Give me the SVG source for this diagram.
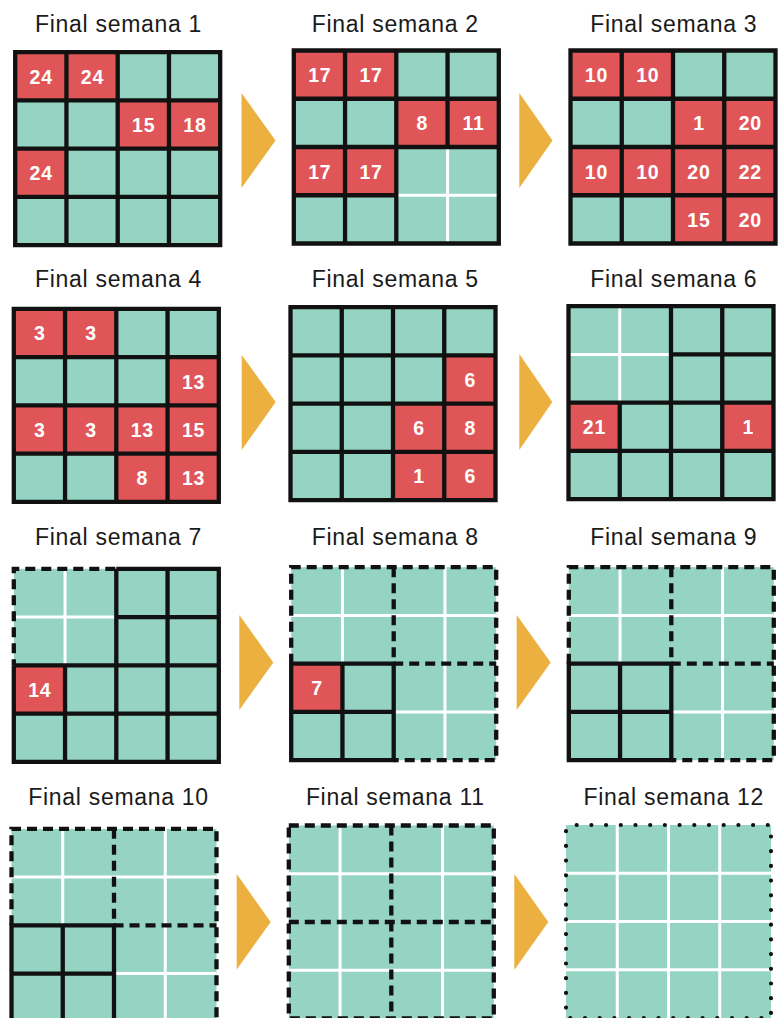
<svg xmlns="http://www.w3.org/2000/svg" xmlns:xlink="http://www.w3.org/1999/xlink" width="779" height="1018" viewBox="0 0 779 1018">
<style>
.bg{fill:#95D4C3}
.red{fill:#E05658}
.k{fill:none;stroke:#111;stroke-width:4.3}
.w{fill:none;stroke:#fff;stroke-width:3}
.d{fill:none;stroke:#111;stroke-width:4.3;stroke-dasharray:10 6}
.dot{fill:none;stroke:#111;stroke-width:4.2;stroke-dasharray:0 14.7;stroke-dashoffset:4;stroke-linecap:round}
.t{font-family:"Liberation Sans",Arial,sans-serif;font-size:23px;letter-spacing:0.7px;fill:#1a1a1a;text-anchor:middle}
.n{font-family:"Liberation Sans",Arial,sans-serif;font-weight:bold;font-size:19.5px;letter-spacing:0.8px;fill:#fff;text-anchor:middle}
.arr{fill:#ECB040}
</style>
<defs>
<rect id="bg" class="bg" width="205" height="193"/>
<rect id="c" class="red" width="51.25" height="48.25"/>
<path id="grid" class="k" d="M0,0H205V193H0Z M51.25,0V193 M102.5,0V193 M153.75,0V193 M0,48.25H205 M0,96.5H205 M0,144.75H205"/>
</defs>

<g id="connectors">
<polygon class="arr" points="241.5,93 275.5,140.5 241.5,188"/>
<polygon class="arr" points="519.3,93 552.5,140.5 519.3,188"/>
<polygon class="arr" points="241.7,355 275.7,402 241.7,450"/>
<polygon class="arr" points="519.3,354 552.3,402 519.3,450"/>
<polygon class="arr" points="239.3,615 273.3,662.5 239.3,710"/>
<polygon class="arr" points="516.7,615 550.7,662.5 516.7,710"/>
<polygon class="arr" points="236.7,874 270.7,922 236.7,969.5"/>
<polygon class="arr" points="514.3,874 548.3,922 514.3,970"/>
</g>

<g id="week1">
<text class="t" x="118.6" y="32.3">Final semana 1</text>
<g transform="translate(15.2,52.2)">
<use href="#bg"/>
<use href="#c" x="0" y="0"/><use href="#c" x="51.25" y="0"/><use href="#c" x="102.5" y="48.25"/><use href="#c" x="153.75" y="48.25"/><use href="#c" x="0" y="96.5"/>
<use href="#grid"/>
<text class="n" x="26" y="31.5">24</text><text class="n" x="77.3" y="31.5">24</text><text class="n" x="128.5" y="79.8">15</text><text class="n" x="179.8" y="79.8">18</text><text class="n" x="26" y="128">24</text>
</g>
</g>

<g id="week2">
<text class="t" x="395.3" y="32.3">Final semana 2</text>
<g transform="translate(293.8,50.5)">
<use href="#bg"/>
<use href="#c" x="0" y="0"/><use href="#c" x="51.25" y="0"/><use href="#c" x="102.5" y="48.25"/><use href="#c" x="153.75" y="48.25"/><use href="#c" x="0" y="96.5"/><use href="#c" x="51.25" y="96.5"/>
<path class="w" d="M153.75,96.5V193 M102.5,144.75H205"/>
<path class="k" d="M0,0H205V193H0Z M51.25,0V193 M102.5,0V193 M153.75,0V96.5 M0,48.25H205 M0,96.5H205 M0,144.75H102.5"/>
<text class="n" x="26" y="31.5">17</text><text class="n" x="77.3" y="31.5">17</text><text class="n" x="128.5" y="79.8">8</text><text class="n" x="179.8" y="79.8">11</text><text class="n" x="26" y="128">17</text><text class="n" x="77.3" y="128">17</text>
</g>
</g>

<g id="week3">
<text class="t" x="673.8" y="32.3">Final semana 3</text>
<g transform="translate(570.5,50.5)">
<use href="#bg"/>
<use href="#c" x="0" y="0"/><use href="#c" x="51.25" y="0"/><use href="#c" x="102.5" y="48.25"/><use href="#c" x="153.75" y="48.25"/><use href="#c" x="0" y="96.5"/><use href="#c" x="51.25" y="96.5"/><use href="#c" x="102.5" y="96.5"/><use href="#c" x="153.75" y="96.5"/><use href="#c" x="102.5" y="144.75"/><use href="#c" x="153.75" y="144.75"/>
<use href="#grid"/>
<text class="n" x="26" y="31.5">10</text><text class="n" x="77.3" y="31.5">10</text><text class="n" x="128.5" y="79.8">1</text><text class="n" x="179.8" y="79.8">20</text><text class="n" x="26" y="128">10</text><text class="n" x="77.3" y="128">10</text><text class="n" x="128.5" y="128">20</text><text class="n" x="179.8" y="128">22</text><text class="n" x="128.5" y="176.3">15</text><text class="n" x="179.8" y="176.3">20</text>
</g>
</g>

<g id="week4">
<text class="t" x="118.6" y="287">Final semana 4</text>
<g transform="translate(13.8,308.8)">
<use href="#bg"/>
<use href="#c" x="0" y="0"/><use href="#c" x="51.25" y="0"/><use href="#c" x="153.75" y="48.25"/><use href="#c" x="0" y="96.5"/><use href="#c" x="51.25" y="96.5"/><use href="#c" x="102.5" y="96.5"/><use href="#c" x="153.75" y="96.5"/><use href="#c" x="102.5" y="144.75"/><use href="#c" x="153.75" y="144.75"/>
<use href="#grid"/>
<text class="n" x="26" y="31.5">3</text><text class="n" x="77.3" y="31.5">3</text><text class="n" x="179.8" y="79.8">13</text><text class="n" x="26" y="128">3</text><text class="n" x="77.3" y="128">3</text><text class="n" x="128.5" y="128">13</text><text class="n" x="179.8" y="128">15</text><text class="n" x="128.5" y="176.3">8</text><text class="n" x="179.8" y="176.3">13</text>
</g>
</g>

<g id="week5">
<text class="t" x="395.3" y="287">Final semana 5</text>
<g transform="translate(290.5,307.2)">
<use href="#bg"/>
<use href="#c" x="153.75" y="48.25"/><use href="#c" x="102.5" y="96.5"/><use href="#c" x="153.75" y="96.5"/><use href="#c" x="102.5" y="144.75"/><use href="#c" x="153.75" y="144.75"/>
<use href="#grid"/>
<text class="n" x="179.8" y="79.8">6</text><text class="n" x="128.5" y="128">6</text><text class="n" x="179.8" y="128">8</text><text class="n" x="128.5" y="176.3">1</text><text class="n" x="179.8" y="176.3">6</text>
</g>
</g>

<g id="week6">
<text class="t" x="673.8" y="287">Final semana 6</text>
<g transform="translate(568.5,306.2)">
<use href="#bg"/>
<use href="#c" x="0" y="96.5"/><use href="#c" x="153.75" y="96.5"/>
<path class="w" d="M51.25,0V96.5 M0,48.25H102.5"/>
<path class="k" d="M0,0H205V193H0Z M51.25,96.5V193 M102.5,0V193 M153.75,0V193 M102.5,48.25H205 M0,96.5H205 M0,144.75H205"/>
<text class="n" x="26" y="128">21</text><text class="n" x="179.8" y="128">1</text>
</g>
</g>

<g id="week7">
<text class="t" x="118.6" y="545">Final semana 7</text>
<g transform="translate(13.8,568.8)">
<use href="#bg"/>
<use href="#c" x="0" y="96.5"/>
<path class="w" d="M51.25,0V96.5 M0,48.25H102.5"/>
<path class="d" style="stroke-dashoffset:4" d="M0,96.5V0H102.5"/>
<path class="k" d="M102.5,0H205V193H0V96.5 M51.25,96.5V193 M102.5,0V193 M153.75,0V193 M102.5,48.25H205 M0,96.5H205 M0,144.75H205"/>
<text class="n" x="26" y="128">14</text>
</g>
</g>

<g id="week8">
<text class="t" x="395.3" y="545">Final semana 8</text>
<g transform="translate(291.2,567.2)">
<use href="#bg"/>
<use href="#c" x="0" y="96.5"/>
<path class="w" d="M51.25,0V96.5 M0,48.25H102.5 M153.75,0V193 M102.5,48.25H205 M102.5,144.75H205"/>
<path class="d" d="M0,96.5V0H205V193H102.5 M102.5,0V96.5H205"/>
<path class="k" d="M0,96.5H102.5V193H0Z M51.25,96.5V193 M0,144.75H102.5"/>
<text class="n" x="26" y="128">7</text>
</g>
</g>

<g id="week9">
<text class="t" x="673.8" y="545">Final semana 9</text>
<g transform="translate(568.8,567.2)">
<use href="#bg"/>
<path class="w" d="M51.25,0V96.5 M0,48.25H102.5 M153.75,0V193 M102.5,48.25H205 M102.5,144.75H205"/>
<path class="d" d="M0,96.5V0H205V193H102.5 M102.5,0V96.5H205"/>
<path class="k" d="M0,96.5H102.5V193H0Z M51.25,96.5V193 M0,144.75H102.5"/>
</g>
</g>

<g id="week10">
<text class="t" x="118.6" y="805">Final semana 10</text>
<g transform="translate(11.5,828.8)">
<use href="#bg"/>
<path class="w" d="M51.25,0V96.5 M0,48.25H102.5 M153.75,0V193 M102.5,48.25H205 M102.5,144.75H205"/>
<path class="d" d="M0,96.5V0H205V193H102.5 M102.5,0V96.5H205"/>
<path class="k" d="M0,96.5H102.5V193H0Z M51.25,96.5V193 M0,144.75H102.5"/>
</g>
</g>

<g id="week11">
<text class="t" x="395.3" y="805">Final semana 11</text>
<g transform="translate(288.8,825.5)">
<use href="#bg"/>
<path class="w" d="M51.25,0V193 M153.75,0V193 M0,48.25H205 M0,144.75H205"/>
<path class="d" d="M0,0H205V193H0Z M102.5,0V193 M0,96.5H205"/>
</g>
</g>

<g id="week12">
<text class="t" x="673.8" y="805">Final semana 12</text>
<g transform="translate(566,825)">
<use href="#bg"/>
<path class="w" d="M51.25,0V193 M102.5,0V193 M153.75,0V193 M0,48.25H205 M0,96.5H205 M0,144.75H205"/>
<path class="dot" d="M0,0H205V193H0Z"/>
</g>
</g>
</svg>
